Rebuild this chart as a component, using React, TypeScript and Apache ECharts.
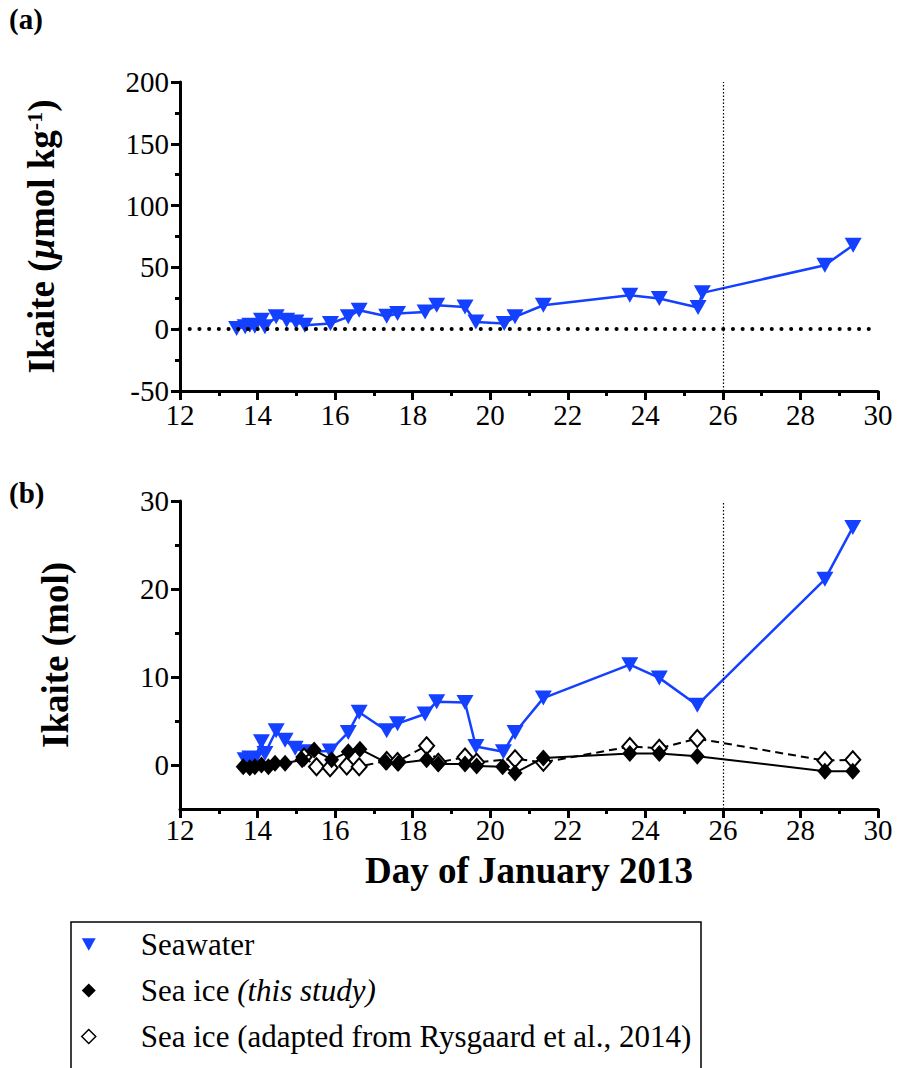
import React, { useEffect, useRef } from 'react';
import * as echarts from 'echarts';

const BLUE = '#1440ff';
const FONT = 'Liberation Serif, serif';

// Panel (a): seawater ikaite concentration (µmol kg-1)
const daySeawaterA = [13.46, 13.68, 13.8, 13.93, 14.1, 14.19, 14.48, 14.75, 14.99, 15.22, 15.88, 16.34, 16.62, 17.33, 17.61, 18.32, 18.62, 19.35, 19.63, 20.36, 20.64, 21.37, 23.6, 24.36, 25.36, 25.47, 28.63, 29.36];
const seawaterA = [0.5, 1.9, 3.2, 2.4, 7.3, 1.9, 10, 7.3, 5.9, 3.2, 4.6, 10, 15.4, 10.5, 12.7, 14, 19.4, 18, 5.9, 4.6, 10, 19.4, 27.5, 24.8, 17.5, 29.4, 51.8, 68];

// Panel (b): ikaite amounts (mol)
const daySeawaterB = [13.68, 13.8, 13.93, 14.1, 14.19, 14.48, 14.71, 14.97, 15.22, 15.87, 16.34, 16.62, 17.33, 17.61, 18.32, 18.62, 19.35, 19.63, 20.34, 20.64, 21.37, 23.6, 24.36, 25.34, 28.63, 29.35];
const seawaterB = [0.6, 0.8, 0.7, 2.65, 1.3, 3.9, 2.8, 1.9, 1.5, 1.6, 3.7, 6.0, 3.9, 4.7, 5.8, 7.2, 7.1, 2.1, 1.5, 3.7, 7.6, 11.4, 9.9, 6.8, 21.1, 27.0];

const dayIceThis = [13.63, 13.8, 13.93, 14.1, 14.28, 14.45, 14.71, 15.15, 15.46, 15.91, 16.34, 16.64, 17.31, 17.63, 18.36, 18.66, 19.35, 19.65, 20.32, 20.64, 21.37, 23.6, 24.36, 25.34, 28.63, 29.35];
const iceThis = [-0.2, -0.3, -0.2, 0, -0.2, 0.2, 0.2, 0.6, 1.7, 0.6, 1.5, 1.8, 0.3, 0.2, 0.6, 0.1, 0.1, -0.1, -0.2, -0.9, 0.8, 1.3, 1.3, 1.0, -0.7, -0.7];

const dayIceRys = [15.2, 15.52, 15.87, 16.3, 16.62, 17.33, 17.61, 18.36, 18.66, 19.35, 19.65, 20.64, 21.37, 23.6, 24.36, 25.34, 28.63, 29.35];
const iceRys = [0.9, -0.2, -0.3, -0.1, -0.2, 0.5, 0.4, 2.2, 0.3, 0.9, 0.3, 0.7, 0.3, 2.1, 1.9, 3.0, 0.5, 0.6];

const panelBLabels = [0, 10, 20, 30];
const panelBMinor = [5, 15, 25];
const cutoffDay = 26;

const NAME_SW = 'Seawater';
const NAME_THIS = 'Sea ice (this study)';
const NAME_RYS = 'Sea ice (adapted from Rysgaard et al., 2014)';

const zip = (xs: number[], ys: number[]) => xs.map((x, i) => [x, ys[i]]);

const axisLineStyle = { show: true, onZero: false, lineStyle: { color: '#000', width: 3 } };
const tickStyle = { show: true, inside: false, length: 9, lineStyle: { color: '#000', width: 3 } };
const minorTickStyle = { show: true, splitNumber: 2, length: 5, lineStyle: { color: '#000', width: 3 } };
const labelStyle = {
  color: '#000',
  fontFamily: FONT,
  fontSize: 29,
  formatter: (v: number) => '{t|' + v + '}',
  rich: { t: { fontFamily: FONT, fontSize: 29, lineHeight: 29, color: '#000' } },
};

function makeX(gridIndex: number, withName: boolean) {
  return {
    type: 'value',
    gridIndex,
    min: 12,
    max: 30,
    interval: 2,
    axisLine: axisLineStyle,
    axisTick: tickStyle,
    minorTick: minorTickStyle,
    splitLine: { show: false },
    axisLabel: { ...labelStyle, margin: withName ? 6 : 9 },
    name: withName ? 'Day of January 2013' : '',
    nameLocation: 'middle',
    nameGap: 43,
    nameMoveOverlap: false,
    nameTextStyle: { color: '#000', fontFamily: FONT, fontSize: 37, lineHeight: 37, fontWeight: 'bold' },
  };
}

const vLine = { xAxis: cutoffDay, lineStyle: { type: [1.5, 2], width: 1.2, color: '#000' } };

export default function App() {
  const ref = useRef<HTMLDivElement>(null);

  useEffect(() => {
    document.body.style.margin = '0';
    if (!ref.current) return;
    const chart = echarts.init(ref.current, null, { renderer: 'svg' });

    const option: any = {
      animation: false,
      backgroundColor: '#fff',
      textStyle: { fontFamily: FONT },
      grid: [
        { left: 180, top: 82, width: 698, height: 309 },
        { left: 180, top: 501, width: 698, height: 308 },
      ],
      xAxis: [makeX(0, false), makeX(1, true)],
      yAxis: [
        {
          type: 'value',
          gridIndex: 0,
          min: -50,
          max: 200,
          interval: 50,
          axisLine: axisLineStyle,
          axisTick: tickStyle,
          minorTick: minorTickStyle,
          splitLine: { show: false },
          axisLabel: { ...labelStyle, margin: 11 },
          name: '{b|Ikaite (}{bi|µ}{b|mol kg}{s|-1}{b|)}',
          nameLocation: 'middle',
          nameGap: 120,
          nameTextStyle: {
            fontFamily: FONT,
            rich: {
              b: { fontFamily: FONT, fontSize: 37, fontWeight: 'bold', color: '#000' },
              bi: { fontFamily: FONT, fontSize: 37, fontWeight: 'bold', fontStyle: 'italic', color: '#000' },
              s: { fontFamily: FONT, fontSize: 22, fontWeight: 'bold', color: '#000', verticalAlign: 'top' },
            },
          },
        },
        {
          type: 'value',
          gridIndex: 1,
          min: -5,
          max: 30,
          axisLine: axisLineStyle,
          axisTick: { ...tickStyle, customValues: panelBLabels },
          splitLine: { show: false },
          axisLabel: { ...labelStyle, margin: 11, customValues: panelBLabels },
          name: 'Ikaite (mol)',
          nameLocation: 'middle',
          nameGap: 106,
          nameTextStyle: { color: '#000', fontFamily: FONT, fontSize: 37, fontWeight: 'bold' },
        },
        {
          type: 'value',
          gridIndex: 1,
          position: 'left',
          min: -5,
          max: 30,
          axisLine: { show: false, onZero: false },
          axisTick: { show: true, inside: false, length: 5, lineStyle: { color: '#000', width: 3 }, customValues: panelBMinor },
          axisLabel: { show: false },
          splitLine: { show: false },
        },
      ],
      legend: {
        left: 71,
        top: 922,
        orient: 'vertical',
        borderWidth: 0,
        padding: [7, 16, 0, 10],
        itemGap: 15,
        itemWidth: 14,
        itemHeight: 14,
        selectedMode: false,
        data: [
          { name: NAME_SW, icon: 'path://M0,0L10,0L5,9Z', itemStyle: { color: BLUE, borderWidth: 0 } },
          { name: NAME_THIS, icon: 'diamond', itemStyle: { color: '#000', borderWidth: 0 } },
          { name: NAME_RYS, icon: 'diamond', itemStyle: { color: '#fff', borderColor: '#000', borderWidth: 1.5 } },
        ],
        formatter: (name: string) => {
          if (name === NAME_THIS) return '{n|Sea ice }{i|(this study)}';
          return '{n|' + name + '}';
        },
        textStyle: {
          color: '#000',
          fontFamily: FONT,
          fontSize: 31,
          rich: {
            n: { fontFamily: FONT, fontSize: 31, color: '#000', padding: [0, 0, 0, 40] },
            i: { fontFamily: FONT, fontSize: 31, color: '#000', fontStyle: 'italic' },
          },
        },
      },
      graphic: [
        { type: 'text', left: 9, top: 4, style: { text: '(a)', fontFamily: FONT, fontSize: 29, fontWeight: 'bold', fill: '#000' } },
        { type: 'text', left: 9, top: 478, style: { text: '(b)', fontFamily: FONT, fontSize: 29, fontWeight: 'bold', fill: '#000' } },
        {
          type: 'rect',
          shape: { x: 71, y: 922, width: 630, height: 200 },
          style: { fill: 'none', stroke: '#000', lineWidth: 1.5 },
          z: -1,
          silent: true,
        },
      ],
      series: [
        {
          name: NAME_SW,
          type: 'line',
          xAxisIndex: 0,
          yAxisIndex: 0,
          data: zip(daySeawaterA, seawaterA),
          symbol: 'triangle',
          symbolRotate: 180,
          symbolSize: [17, 15],
          itemStyle: { color: BLUE },
          lineStyle: { color: BLUE, width: 2.5 },
          z: 3,
          markLine: {
            silent: true,
            symbol: ['none', 'none'],
            label: { show: false },
            emphasis: { disabled: true },
            data: [
              { yAxis: 0, lineStyle: { type: [0.1, 9.6], cap: 'round', width: 4, color: '#000' } },
              vLine,
            ],
          },
        },
        {
          name: NAME_SW,
          type: 'line',
          xAxisIndex: 1,
          yAxisIndex: 1,
          data: zip(daySeawaterB, seawaterB),
          symbol: 'triangle',
          symbolRotate: 180,
          symbolSize: [17, 15],
          itemStyle: { color: BLUE },
          lineStyle: { color: BLUE, width: 2.5 },
          z: 2,
          markLine: {
            silent: true,
            symbol: ['none', 'none'],
            label: { show: false },
            emphasis: { disabled: true },
            data: [vLine],
          },
        },
        {
          name: NAME_RYS,
          type: 'line',
          xAxisIndex: 1,
          yAxisIndex: 1,
          data: zip(dayIceRys, iceRys),
          symbol: 'diamond',
          symbolSize: [15, 17],
          itemStyle: { color: '#fff', borderColor: '#000', borderWidth: 2 },
          lineStyle: { color: '#000', width: 2, type: [8, 5] },
          z: 3,
        },
        {
          name: NAME_THIS,
          type: 'line',
          xAxisIndex: 1,
          yAxisIndex: 1,
          data: zip(dayIceThis, iceThis),
          symbol: 'diamond',
          symbolSize: [15, 17],
          itemStyle: { color: '#000' },
          lineStyle: { color: '#000', width: 2 },
          z: 4,
        },
      ],
    };

    chart.setOption(option);
    return () => chart.dispose();
  }, []);

  return <div ref={ref} style={{ width: 899, height: 1068 }} />;
}
